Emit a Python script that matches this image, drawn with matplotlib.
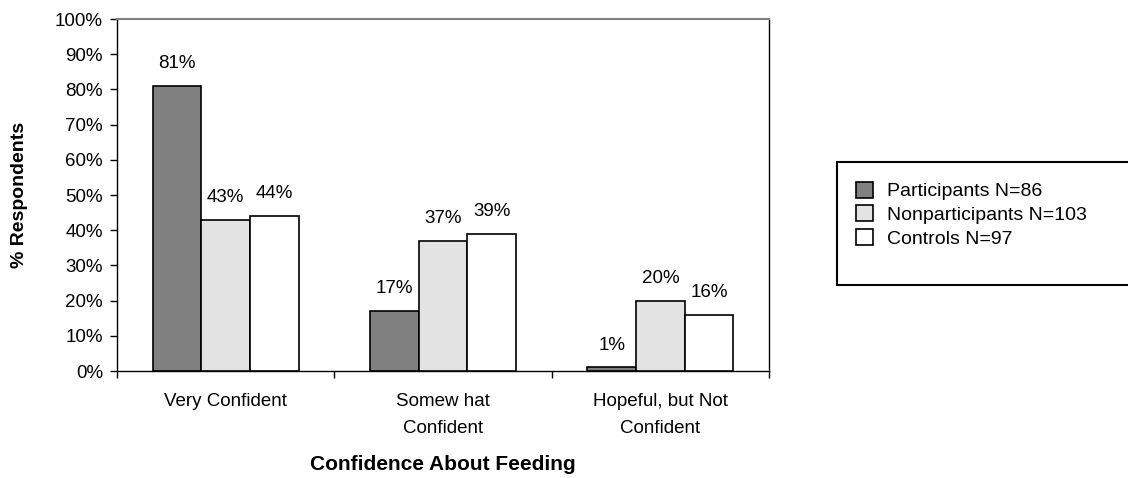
import matplotlib
matplotlib.use("Agg")
import matplotlib.pyplot as plt
from matplotlib.patches import Patch, Rectangle
import numpy as np

plt.rcParams['font.family'] = ['Liberation Sans', 'DejaVu Sans']

categories = ["Very Confident", "Somew hat\nConfident", "Hopeful, but Not\nConfident"]
series_names = ["Participants N=86", "Nonparticipants N=103", "Controls N=97"]
participants = [81, 17, 1]
nonparticipants = [43, 37, 20]
controls = [44, 39, 16]
series_values = [participants, nonparticipants, controls]
series_colors = ["#808080", "#e3e3e3", "#ffffff"]
y_ticks = list(range(0, 101, 10))

W, H = 1128, 478
fig = plt.figure(figsize=(W / 100, H / 100), dpi=100)
ax = fig.add_axes([117 / W, 1 - 371 / H, (769 - 117) / W, (371 - 19) / H])

centers = np.arange(len(categories)) + 0.5
bw = 0.224
offsets = [-bw, 0.0, bw]
for vals, col, off in zip(series_values, series_colors, offsets):
    bars = ax.bar(centers + off, np.array(vals) / 100.0, width=bw, color=col,
                  edgecolor="black", linewidth=1.2, zorder=3)
    for rect, v in zip(bars, vals):
        ax.annotate(f"{v}%", (rect.get_x() + rect.get_width() / 2, rect.get_height()),
                    xytext=(0, 10), textcoords="offset points",
                    ha="center", va="bottom", fontsize=13.5)

ax.set_xlim(0, len(categories))
ax.set_ylim(0, 1.0)
ax.set_yticks([t / 100 for t in y_ticks])
ax.set_yticklabels([f"{t}%" for t in y_ticks], fontsize=13.5)
ax.tick_params(axis="y", direction="out", length=5, width=1, pad=5)

ax.set_xticks(np.arange(len(categories) + 1))
ax.set_xticklabels([])
ax.tick_params(axis="x", which="major", direction="out", length=5, width=1)
ax.set_xticks(centers, minor=True)
ax.set_xticklabels(categories, minor=True, fontsize=13.5, linespacing=1.75)
ax.tick_params(axis="x", which="minor", length=0, pad=16)

for side in ["left", "bottom", "right"]:
    ax.spines[side].set_color("black")
    ax.spines[side].set_linewidth(1.0)
ax.spines["top"].set_color("#808080")
ax.spines["top"].set_linewidth(1.5)

fig.text(443 / W, 1 - 465 / H, "Confidence About Feeding", ha="center", va="center",
         fontsize=15, fontweight="bold")
fig.text(20 / W, 1 - 195 / H, "% Respondents", ha="center", va="center",
         rotation=90, fontsize=14, fontweight="bold")

# legend box running off the right edge
frame = Rectangle((837 / W, 1 - 285 / H), (1140 - 837) / W, (285 - 162) / H,
                  transform=fig.transFigure, facecolor="white", edgecolor="black",
                  linewidth=1.5, clip_on=False, zorder=1)
fig.add_artist(frame)
handles = [Patch(facecolor=c, edgecolor="black", linewidth=1.2) for c in series_colors]
leg = fig.legend(handles, series_names, loc="upper left",
                 bbox_to_anchor=(842 / W, 1 - 168 / H), frameon=False,
                 fontsize=14, handlelength=0.9, handleheight=0.9,
                 handletextpad=0.7, labelspacing=0.25, borderpad=0.2)
leg.set_zorder(2)

fig.savefig("out.png", dpi=100)
